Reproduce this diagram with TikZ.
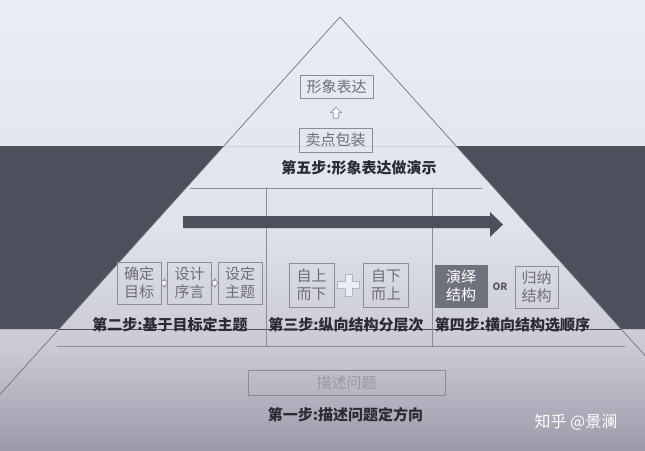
\documentclass[tikz,border=0pt]{standalone}
\usepackage{fontspec}
\setmainfont{Noto Sans CJK SC}
\usetikzlibrary{positioning}
\definecolor{bgtop}{HTML}{E9EEF4}
\definecolor{bgmid}{HTML}{DFE3EA}
\definecolor{bglow}{HTML}{C9C9D3}
\definecolor{bgbot}{HTML}{9D99AA}
\definecolor{bandgray}{HTML}{4B505C}
\definecolor{edgegray}{HTML}{70747C}
\definecolor{boxline}{HTML}{8C8C92}
\definecolor{boxtext}{HTML}{6E6E74}
\definecolor{stepcol}{HTML}{2B2B33}
\definecolor{darkbox}{HTML}{6F727C}
\definecolor{crossline}{HTML}{B4B6BC}
\pgfdeclareverticalshading{bgshade}{100bp}{color(0bp)=(bgbot); color(25bp)=(bgbot); color(36bp)=(bglow); color(50bp)=(bgmid); color(75bp)=(bgtop); color(100bp)=(bgtop)}
\tikzset{
  box/.style={draw=boxline, line width=.9pt, text=boxtext, inner sep=0pt, minimum width=73, minimum height=24, font=\fontsize{15}{18}\selectfont},
  twobox/.style={box, minimum width=44, minimum height=42, align=center},
  steptext/.style={text=stepcol, font=\bfseries\fontsize{15}{18}\selectfont},
  hollow/.style={draw=boxline, fill=white!60!bgtop, line width=.7pt}
}
\begin{document}
\begin{tikzpicture}[x=1pt, y=-1pt, line join=round, line cap=round]
  \useasboundingbox (0,0) rectangle (645,450);
  \clip (0,0) rectangle (645,450);
  \def\k{1.11} % do doc canh
  \coordinate (A) at (340,17);
  \coordinate (L) at ({340-433/\k},450);
  \coordinate (R) at ({340+433/\k},450);
  % nen
  \shade[shading=bgshade] (0,0) rectangle (645,450);
  \begin{scope}
    \clip (0,146) rectangle (645,329);
    \fill[bandgray, even odd rule] (0,146) rectangle (645,329) (A) -- (L) -- (R) -- cycle;
  \end{scope}
  \draw[edgegray, line width=.7pt] (L) -- (A) -- (R);
  % khung trong
  \draw[boxline, line width=.8pt] (190,188) -- (482,188) (266,188) -- (266,346) (432,188) -- (432,346) (57,346) -- (625,346);
  \fill[bandgray] (183,216) -- (490,216) -- (490,212) -- (503,224.5) -- (490,237) -- (490,228) -- (183,228) -- cycle;
  % buoc 5
  \node[box, minimum height=23] (image) at (336.5,87) {形象表达};
  \node[box] (selling) at (335.5,140) {卖点包装};
  \path (selling.north) -- (image.south) coordinate[midway] (up);
  \draw[hollow] (up) ++(0,-6) -- ++(5.5,5.5) -- ++(-2.7,0) -- ++(0,5.5) -- ++(-5.6,0) -- ++(0,-5.5) -- ++(-2.7,0) -- cycle;
  \node[steptext] (step5) at (359,168) {第五步:形象表达做演示};
  % buoc 2
  \node[twobox] (goal) at (139,283) {确定\\目标};
  \node[twobox] (preface) at (189.5,283) {设计\\序言};
  \node[twobox] (theme) at (240,283) {设定\\主题};
  \path (goal.east) -- (preface.west) coordinate[midway] (a1);
  \path (preface.east) -- (theme.west) coordinate[midway] (a2);
  \foreach \p in {a1,a2}
    \draw[hollow, line width=.6pt] (\p) ++(3,0) -- ++(-3,-4.5) -- ++(0,2.2) -- ++(-2.5,0) -- ++(0,4.6) -- ++(2.5,0) -- ++(0,2.2) -- cycle;
  \node[steptext] (step2) at (170,325) {第二步:基于目标定主题};
  % buoc 3
  \node[twobox, minimum width=45, minimum height=44] (topdown) at (311.5,285) {自上\\而下};
  \node[twobox, minimum width=45, minimum height=44] (bottomup) at (386,285) {自下\\而上};
  \path (topdown.east) -- (bottomup.west) coordinate[midway] (plus);
  \draw[crossline, fill=bgtop, line width=1pt] (plus) ++(-3.5,-11) -- ++(7,0) -- ++(0,7.5) -- ++(7.5,0) -- ++(0,7) -- ++(-7.5,0) -- ++(0,7.5) -- ++(-7,0) -- ++(0,-7.5) -- ++(-7.5,0) -- ++(0,-7) -- ++(7.5,0) -- cycle;
  \node[steptext] (step3) at (346,325) {第三步:纵向结构分层次};
  % buoc 4
  \node[twobox, draw=darkbox, fill=darkbox, text=white, minimum width=52] (deduct) at (461,286) {演绎\\结构};
  \node[twobox, minimum width=43] (induct) at (536.5,287) {归纳\\结构};
  \node[text=boxtext!80!black, font=\bfseries\fontsize{10}{12}\selectfont] (or) at (500,287) {OR};
  \node[steptext] (step4) at (512.5,325) {第四步:横向结构选顺序};
  % buoc 1
  \node[box, minimum width=197, minimum height=25, text=boxtext!70!white] (problem) at (346.5,382.5) {描述问题};
  \node[steptext] (step1) at (345.5,415) {第一步:描述问题定方向};
  \node[text=white, font=\fontsize{16}{18}\selectfont] (mark) at (576,422) {知乎 @景澜};
\end{tikzpicture}
\end{document}
